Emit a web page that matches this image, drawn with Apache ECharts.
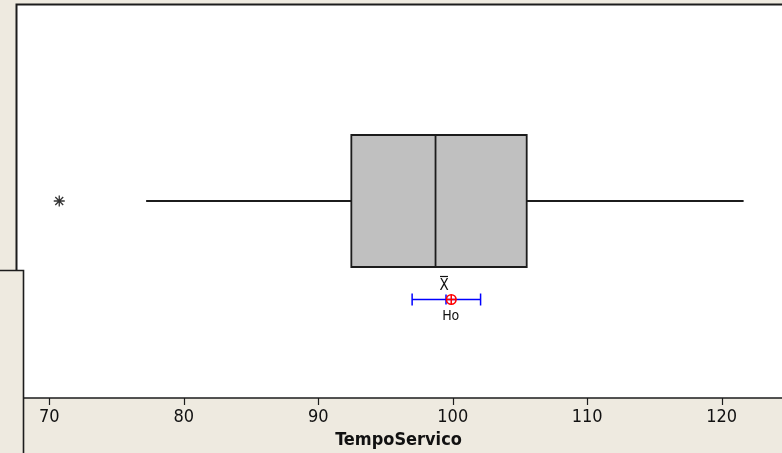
<!DOCTYPE html>
<html>
<head>
<meta charset="utf-8">
<script src="https://cdn.jsdelivr.net/npm/echarts@6/dist/echarts.min.js"></script>
<style>
  html, body { margin: 0; padding: 0; background: #EEEAE0; }
  #chart { width: 782px; height: 453px; }
</style>
</head>
<body>
<div id="chart"></div>
<script>
// TempoServico: five-number summary (lower whisker, Q1, median, Q3, upper whisker)
const variableName = 'TempoServico';
const boxStats = [77.2, 92.46, 98.72, 105.5, 121.63];
const outliers = [70.74];
// Confidence interval for the mean: lower, mean, upper
const meanInterval = [96.98, 99.5, 102.07];
// Hypothesised mean (Ho)
const hypothesisedMean = 100;
const xTicks = [70, 80, 90, 100, 110, 120];

const FONT = '"DejaVu Sans Condensed", "Liberation Sans", sans-serif';
const INK = '#1c1c1c';
const PANEL = '#EEEAE0';

// Rows on the hidden vertical scale (0 at top, 4 at bottom)
const BOX_ROW = 2;
const CI_ROW = 3;
const AXIS_ROW = 4;

const chart = echarts.init(document.getElementById('chart'), null, { renderer: 'canvas' });

function renderBox(params, api) {
  const lo = api.coord([api.value(0), BOX_ROW]);
  const q1 = api.coord([api.value(1), BOX_ROW]);
  const md = api.coord([api.value(2), BOX_ROW]);
  const q3 = api.coord([api.value(3), BOX_ROW]);
  const hi = api.coord([api.value(4), BOX_ROW]);
  const y = lo[1];
  const half = 66;
  const lineStyle = { stroke: INK, lineWidth: 1.8 };
  return {
    type: 'group',
    children: [
      { type: 'line', shape: { x1: lo[0], y1: y, x2: q1[0], y2: y }, style: lineStyle },
      { type: 'line', shape: { x1: q3[0], y1: y, x2: hi[0], y2: y }, style: lineStyle },
      { type: 'rect', shape: { x: q1[0], y: y - half, width: q3[0] - q1[0], height: 2 * half },
        style: { fill: '#C0C0C0', stroke: INK, lineWidth: 1.8 } },
      { type: 'line', shape: { x1: md[0], y1: y - half, x2: md[0], y2: y + half }, style: lineStyle }
    ]
  };
}

function renderInterval(params, api) {
  const lo = api.coord([api.value(0), CI_ROW]);
  const mn = api.coord([api.value(1), CI_ROW]);
  const hi = api.coord([api.value(2), CI_ROW]);
  const h0 = api.coord([api.value(3), CI_ROW]);
  const y = lo[1];
  const blue = { stroke: '#0000FF', lineWidth: 1.5 };
  const red = { stroke: '#FF0000', lineWidth: 1.5, fill: null };
  return {
    type: 'group',
    children: [
      { type: 'line', shape: { x1: lo[0], y1: y, x2: hi[0], y2: y }, style: blue },
      { type: 'line', shape: { x1: lo[0], y1: y - 6, x2: lo[0], y2: y + 6 }, style: blue },
      { type: 'line', shape: { x1: hi[0], y1: y - 6, x2: hi[0], y2: y + 6 }, style: blue },
      { type: 'line', shape: { x1: mn[0], y1: y - 5, x2: mn[0], y2: y + 5 }, style: blue },
      { type: 'circle', shape: { cx: h0[0] - 1.5, cy: y, r: 4.8 }, style: { stroke: '#FF0000', lineWidth: 1.6, fill: 'rgba(0,0,0,0)' } },
      { type: 'line', shape: { x1: h0[0] - 6.5, y1: y, x2: h0[0] + 3.5, y2: y }, style: red },
      { type: 'line', shape: { x1: h0[0] - 1.5, y1: y - 4.8, x2: h0[0] - 1.5, y2: y + 4.8 }, style: red },
      // mean label: X with a bar above it
      { type: 'text', x: mn[0] - 2, y: y - 13, style: { text: 'X', font: '15px ' + FONT, fill: '#111', align: 'center', verticalAlign: 'middle' } },
      { type: 'line', shape: { x1: mn[0] - 6, y1: y - 23, x2: mn[0] + 2, y2: y - 23 }, style: { stroke: '#111', lineWidth: 1.2 } },
      // hypothesised mean label
      { type: 'text', x: h0[0] - 2, y: y + 17, style: { text: 'Ho', font: '14px ' + FONT, fill: '#111', align: 'center', verticalAlign: 'middle' } }
    ]
  };
}

const option = {
  animation: false,
  backgroundColor: PANEL,
  grid: {
    left: 16, top: 4, right: 0, bottom: 55,
    show: true, backgroundColor: '#FFFFFF', borderWidth: 0
  },
  xAxis: {
    type: 'value',
    min: 67.524,
    max: 124.484,
    axisLine: { show: true, onZero: false, lineStyle: { color: INK, width: 1.6 } },
    axisTick: { show: false },
    axisLabel: { show: false },
    splitLine: { show: false }
  },
  yAxis: {
    type: 'value', min: 0, max: 4, inverse: true, show: false,
    splitLine: { show: false }
  },
  series: [
    {
      type: 'custom',
      name: variableName,
      renderItem: renderBox,
      encode: { x: [0, 1, 2, 3, 4] },
      data: [boxStats],
      z: 2
    },
    {
      type: 'scatter',
      name: 'outliers',
      data: outliers.map(v => [v, BOX_ROW]),
      symbol: 'path://M0,-5L0,5M-5,0L5,0M-3.6,-3.6L3.6,3.6M-3.6,3.6L3.6,-3.6',
      symbolSize: 11,
      itemStyle: { color: 'rgba(0,0,0,0)', borderColor: '#000', borderWidth: 1.3 },
      z: 3
    },
    {
      type: 'custom',
      name: 'interval',
      renderItem: renderInterval,
      encode: { x: [0, 1, 2, 3] },
      data: [[meanInterval[0], meanInterval[1], meanInterval[2], hypothesisedMean]],
      z: 3
    }
  ],
  graphic: [
    // frame of the plotting window: top and left edges
    {
      id: 'frame', type: 'polyline', z: 15,
      shape: { points: [[16.5, 398], [16.5, 4.5], [790, 4.5]] },
      style: { stroke: INK, lineWidth: 2, fill: null }
    },
    {
      id: 'title', type: 'text', x: 398.5, y: 440, z: 10,
      style: { text: variableName, font: 'bold 18px ' + FONT, fill: '#111', align: 'center', verticalAlign: 'middle' }
    },
    {
      id: 'panel', type: 'rect', z: 20,
      shape: { x: -5, y: 270.5, width: 28.5, height: 200 },
      style: { fill: PANEL, stroke: INK, lineWidth: 1.6 }
    }
  ]
};

chart.setOption(option);

// Tick marks and tick labels under the axis line, placed through the grid's scales
const axisMarks = [];
xTicks.forEach(function (v, i) {
  const p = chart.convertToPixel({ gridIndex: 0 }, [v, AXIS_ROW]);
  const x = Math.round(p[0]) + 0.5;
  axisMarks.push({
    id: 'tick' + i, type: 'line', z: 40,
    shape: { x1: x, y1: p[1], x2: x, y2: p[1] + 7 },
    style: { stroke: INK, lineWidth: 1.2 }
  });
  axisMarks.push({
    id: 'tickLabel' + i, type: 'text', z: 40,
    x: p[0], y: p[1] + 10,
    style: { text: String(v), font: '18px ' + FONT, fill: '#111', align: 'center', verticalAlign: 'top' }
  });
});
chart.setOption({ graphic: axisMarks });
</script>
</body>
</html>
